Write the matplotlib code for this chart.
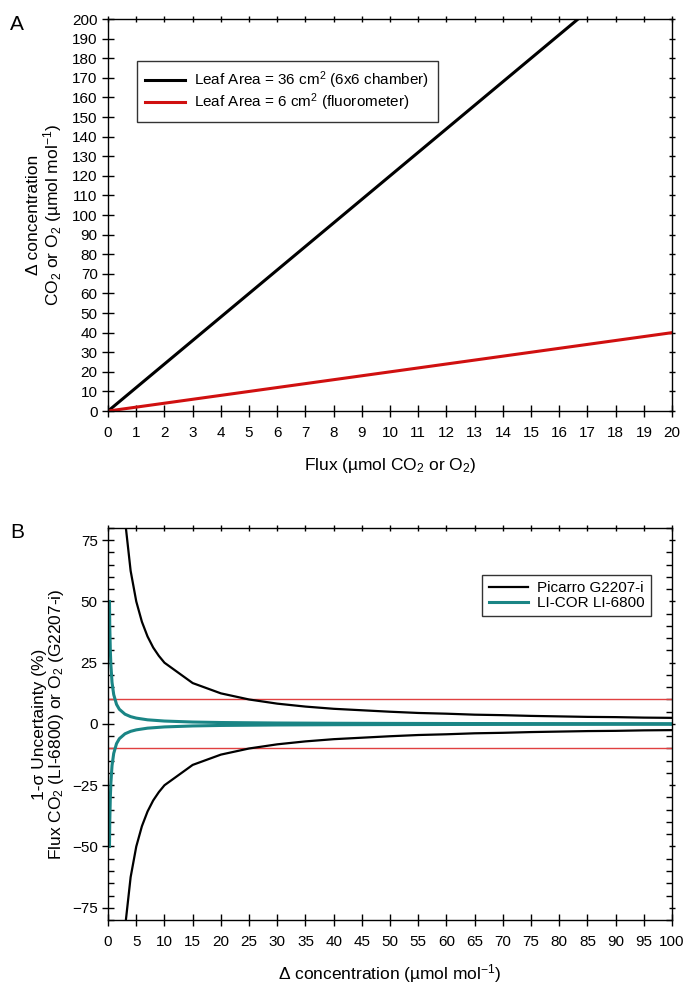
import matplotlib
matplotlib.use('Agg')
import matplotlib.pyplot as plt
from matplotlib.ticker import MultipleLocator

plt.rcParams['font.family'] = ['Liberation Sans', 'DejaVu Sans']
plt.rcParams['mathtext.fontset'] = 'custom'
plt.rcParams['mathtext.rm'] = 'Liberation Sans'
plt.rcParams['mathtext.it'] = 'Liberation Sans:italic'

# panel A: delta concentration vs flux
flux = [0, 1, 2, 3, 4, 5, 6, 7, 8, 9, 10, 11, 12, 13, 14, 15, 16, 17, 18, 19, 20]
dc_36cm2 = [0, 12, 24, 36, 48, 60, 72, 84, 96, 108, 120, 132, 144, 156, 168, 180, 192, 204, 216, 228, 240]
dc_6cm2 = [0, 2, 4, 6, 8, 10, 12, 14, 16, 18, 20, 22, 24, 26, 28, 30, 32, 34, 36, 38, 40]

# panel B: 1-sigma uncertainty vs delta concentration
dconc_pic = [2.5, 3, 4, 5, 6, 7, 8, 9, 10, 15, 20, 25, 30, 35, 40, 45, 50, 55, 60,
             65, 70, 75, 80, 85, 90, 95, 100]
unc_pic = [100, 83.3, 62.5, 50, 41.7, 35.7, 31.2, 27.8, 25, 16.7, 12.5, 10, 8.3, 7.1,
           6.2, 5.6, 5.0, 4.5, 4.2, 3.8, 3.6, 3.3, 3.1, 2.9, 2.8, 2.6, 2.5]
dconc_lic = [0.25, 0.3, 0.4, 0.5, 0.7, 1, 1.5, 2, 3, 4, 5, 7, 10, 15, 20, 30, 40, 50,
             60, 70, 80, 90, 100]
unc_lic = [50, 40, 30, 24, 17, 12, 8, 6, 4, 3, 2.4, 1.7, 1.2, 0.8, 0.6, 0.4, 0.3, 0.24,
           0.2, 0.17, 0.15, 0.13, 0.12]
limit = 10

fig = plt.figure(figsize=(6.84, 9.9), dpi=100)
axA = fig.add_axes([0.158, 0.5848, 0.8246, 0.396])
axB = fig.add_axes([0.158, 0.0707, 0.8246, 0.396])

axA.plot(flux, dc_36cm2, color='black', lw=2.2,
         label='Leaf Area = 36 cm$^2$ (6x6 chamber)')
axA.plot(flux, dc_6cm2, color='#d01010', lw=2.2,
         label='Leaf Area = 6 cm$^2$ (fluorometer)')
axA.set_xlim(0, 20)
axA.set_ylim(0, 200)
axA.xaxis.set_major_locator(MultipleLocator(1))
axA.yaxis.set_major_locator(MultipleLocator(10))
axA.set_xlabel('Flux (µmol CO$_2$ or O$_2$)', fontsize=12.5, labelpad=12)
axA.set_ylabel('Δ concentration\nCO$_2$ or O$_2$ (µmol mol$^{-1}$)', fontsize=12.5,
               labelpad=6, linespacing=1.0)
leg = axA.legend(loc='upper left', bbox_to_anchor=(0.051, 0.893), borderaxespad=0,
                 fontsize=11, frameon=True, fancybox=False, edgecolor='black',
                 handlelength=2.6, borderpad=0.55, labelspacing=0.05, handletextpad=0.6)
leg.get_frame().set_linewidth(1.0)

neg_pic = [-v for v in unc_pic]
neg_lic = [-v for v in unc_lic]
axB.axhline(limit, color='#e04040', lw=1.0)
axB.axhline(-limit, color='#e04040', lw=1.0)
axB.plot(dconc_pic, unc_pic, color='black', lw=1.6, label='Picarro G2207-i')
axB.plot(dconc_pic, neg_pic, color='black', lw=1.6)
axB.plot(dconc_lic, unc_lic, color='#1a8585', lw=2.2, label='LI-COR LI-6800')
axB.plot(dconc_lic, neg_lic, color='#1a8585', lw=2.2)
axB.set_xlim(0, 100)
axB.set_ylim(-80, 80)
axB.xaxis.set_major_locator(MultipleLocator(5))
axB.yaxis.set_major_locator(MultipleLocator(25))
axB.yaxis.set_minor_locator(MultipleLocator(5))
axB.set_xlabel('Δ concentration (µmol mol$^{-1}$)', fontsize=12.5, labelpad=10)
axB.set_ylabel('1-σ Uncertainty (%)\nFlux CO$_2$ (LI-6800) or O$_2$ (G2207-i)',
               fontsize=12.5, labelpad=4, linespacing=1.0)
leg = axB.legend(loc='upper right', bbox_to_anchor=(0.963, 0.88), borderaxespad=0,
                 fontsize=11, frameon=True, fancybox=False, edgecolor='black',
                 handlelength=2.6, borderpad=0.4, labelspacing=0.05, handletextpad=0.6)
leg.get_frame().set_linewidth(1.0)

for ax in (axA, axB):
    for s in ax.spines.values():
        s.set_linewidth(1.0)
    ax.tick_params(which='both', top=True, right=True, labelsize=11, width=1.0)
    ax.tick_params(which='major', direction='inout', length=9, bottom=True, left=True)
    ax.tick_params(which='major', axis='x', pad=6)
    ax.tick_params(which='major', axis='y', pad=3)
    ax.tick_params(which='minor', direction='in', length=4)

# top/right ticks point inward only
for ax in (axA, axB):
    for t in ax.xaxis.get_major_ticks():
        t.tick2line.set_markersize(5)
    for t in ax.yaxis.get_major_ticks():
        t.tick2line.set_markersize(5)

fig.text(0.015, 0.975, 'A', fontsize=15, va='center')
fig.text(0.015, 0.462, 'B', fontsize=15, va='center')

fig.savefig('out.png', dpi=100)
